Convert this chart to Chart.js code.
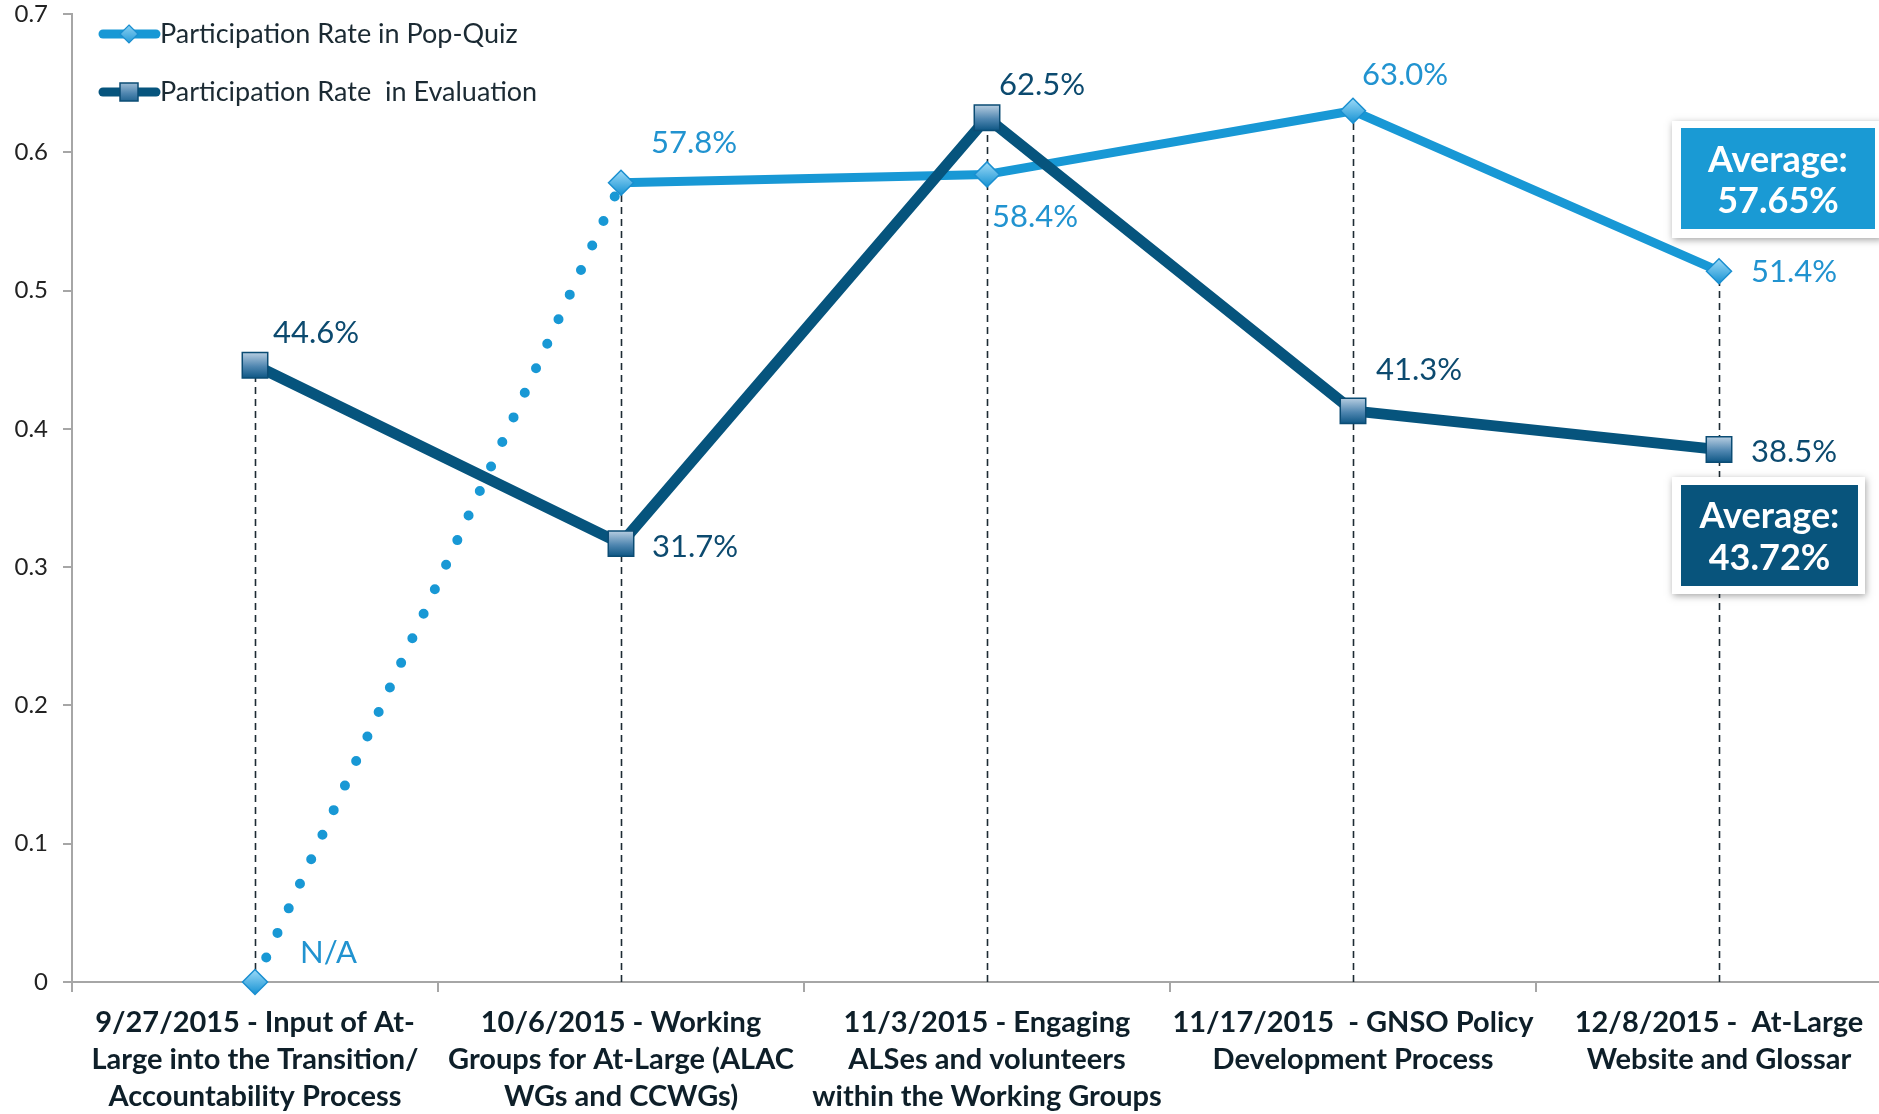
<!DOCTYPE html>
<html><head><meta charset="utf-8">
<script src="https://cdn.jsdelivr.net/npm/chart.js@4.4.0/dist/chart.umd.min.js"></script>
<style>
html,body{margin:0;padding:0;overflow:hidden;background:#fff;width:1879px;height:1114px}
#wrap{position:absolute;left:0;top:0;width:1902px;height:1114px}
</style>
</head><body><div id="wrap"><canvas id="c" width="1902" height="1114"></canvas></div>
<script>
// ---- data ----
const categories = [
  ['9/27/2015 - Input of At-', 'Large into the Transition/', 'Accountability Process'],
  ['10/6/2015 - Working', 'Groups for At-Large (ALAC', 'WGs and CCWGs)'],
  ['11/3/2015 - Engaging', 'ALSes and volunteers', 'within the Working Groups'],
  ['11/17/2015  - GNSO Policy', 'Development Process'],
  ['12/8/2015 -  At-Large', 'Website and Glossar']
];
const seriesNames = ['Participation Rate in Pop-Quiz', 'Participation Rate  in Evaluation'];
const popQuizRate = [0, 0.578, 0.584, 0.630, 0.514];
const evaluationRate = [0.446, 0.317, 0.625, 0.413, 0.385];
const popQuizLabels = ['N/A', '57.8%', '58.4%', '63.0%', '51.4%'];
const evaluationLabels = ['44.6%', '31.7%', '62.5%', '41.3%', '38.5%'];
const averageTexts = [['Average:', '57.65%'], ['Average:', '43.72%']];
const yTickValues = [0, 0.1, 0.2, 0.3, 0.4, 0.5, 0.6, 0.7];

// ---- label placement (offsets from point, px) ----
const popLabelOffsets = [[45, -29], [30, -40], [5, 43], [9, -36], [32, 1]];
const evalLabelOffsets = [[18, -32], [31, 3], [12, -33], [23, -41], [32, 2]];

const LIGHT = '#1898d5', DARK = '#06547d';
const LIGHT_TXT = '#2193d0', DARK_TXT = '#0c4a6f';
const FONT = 'Lato';

function squareGrad(ctx, y) {
  const g = ctx.createLinearGradient(0, y - 13, 0, y + 13);
  g.addColorStop(0, '#b9cfe2'); g.addColorStop(0.55, '#4f86b0'); g.addColorStop(1, '#0c5583');
  return g;
}
function diamondGrad(ctx, y) {
  const g = ctx.createLinearGradient(0, y - 12, 0, y + 12);
  g.addColorStop(0, '#9ad9f7'); g.addColorStop(1, '#1893d3');
  return g;
}
function pointFill(c, maker, fallback) {
  const ys = c.chart.scales && c.chart.scales.y;
  if (!ys || c.type !== 'data' || typeof c.raw !== 'number') return fallback;
  const y = ys.getPixelForValue(c.raw);
  if (!isFinite(y)) return fallback;
  return maker(c.chart.ctx, y);
}

const dropLines = {
  id: 'dropLines',
  beforeDatasetsDraw(chart) {
    const ctx = chart.ctx, xs = chart.scales.x, ys = chart.scales.y;
    ctx.save();
    ctx.setLineDash([7, 5]); ctx.strokeStyle = '#1d2b33'; ctx.lineWidth = 1.6;
    for (let i = 0; i < categories.length; i++) {
      const top = Math.max(popQuizRate[i], evaluationRate[i]);
      const px = Math.round(xs.getPixelForValue(i)) + 0.5;
      ctx.beginPath();
      ctx.moveTo(px, ys.getPixelForValue(0));
      ctx.lineTo(px, ys.getPixelForValue(top));
      ctx.stroke();
    }
    ctx.restore();
  }
};

const valueLabels = {
  id: 'valueLabels',
  afterDatasetsDraw(chart) {
    const ctx = chart.ctx, xs = chart.scales.x, ys = chart.scales.y;
    ctx.save();
    ctx.font = '31px ' + FONT; ctx.textAlign = 'left'; ctx.textBaseline = 'middle';
    const draw = (vals, labels, offs, color) => {
      ctx.fillStyle = color;
      vals.forEach((v, i) => {
        const px = xs.getPixelForValue(i), py = ys.getPixelForValue(v);
        ctx.fillText(labels[i], px + offs[i][0], py + offs[i][1]);
      });
    };
    draw(popQuizRate, popQuizLabels, popLabelOffsets, LIGHT_TXT);
    draw(evaluationRate, evaluationLabels, evalLabelOffsets, DARK_TXT);
    ctx.restore();
  }
};

function box(ctx, ox, oy, ow, oh, ix, iy, iw, ih, fill, lines, cy) {
  ctx.save();
  ctx.shadowColor = 'rgba(0,0,0,0.35)'; ctx.shadowBlur = 7; ctx.shadowOffsetX = 1; ctx.shadowOffsetY = 2;
  ctx.fillStyle = '#fff'; ctx.fillRect(ox, oy, ow, oh);
  ctx.restore();
  ctx.save();
  ctx.fillStyle = fill; ctx.fillRect(ix, iy, iw, ih);
  ctx.fillStyle = '#fff'; ctx.font = 'bold 36px ' + FONT; ctx.textAlign = 'center'; ctx.textBaseline = 'middle';
  ctx.fillText(lines[0], ix + iw / 2, cy[0]);
  ctx.fillText(lines[1], ix + iw / 2, cy[1]);
  ctx.restore();
}

const extras = {
  id: 'extras',
  afterDraw(chart) {
    const ctx = chart.ctx;
    const items = [
      {y: 34, color: LIGHT, name: seriesNames[0], kind: 'diamond'},
      {y: 92, color: DARK, name: seriesNames[1], kind: 'square'}
    ];
    items.forEach(it => {
      ctx.save();
      ctx.strokeStyle = it.color; ctx.lineWidth = 9; ctx.lineCap = 'round';
      ctx.beginPath(); ctx.moveTo(103, it.y); ctx.lineTo(156, it.y); ctx.stroke();
      const mx = 129;
      if (it.kind === 'diamond') {
        ctx.beginPath();
        ctx.moveTo(mx, it.y - 9); ctx.lineTo(mx + 9, it.y); ctx.lineTo(mx, it.y + 9); ctx.lineTo(mx - 9, it.y); ctx.closePath();
        ctx.fillStyle = diamondGrad(ctx, it.y); ctx.fill();
        ctx.strokeStyle = '#1a8fd0'; ctx.lineWidth = 1.2; ctx.stroke();
      } else {
        ctx.fillStyle = squareGrad(ctx, it.y);
        ctx.fillRect(mx - 9, it.y - 9, 18, 18);
        ctx.strokeStyle = '#0b4c74'; ctx.lineWidth = 1.5; ctx.strokeRect(mx - 9, it.y - 9, 18, 18);
      }
      ctx.fillStyle = '#1b2a33'; ctx.font = '27px ' + FONT; ctx.textAlign = 'left'; ctx.textBaseline = 'middle';
      ctx.fillText(it.name, 160, it.y);
      ctx.restore();
    });
    box(ctx, 1672, 121, 210, 117, 1681, 128, 194, 101, '#1a9ad4', averageTexts[0], [160, 201]);
    box(ctx, 1672, 477, 193, 117, 1681, 485, 177, 101, '#08547c', averageTexts[1], [516, 558]);
  }
};

new Chart(document.getElementById('c'), {
  type: 'line',
  data: {
    labels: categories,
    datasets: [
      {
        label: seriesNames[0],
        data: popQuizRate,
        order: 1,
        clip: false,
        borderColor: LIGHT,
        borderWidth: 9,
        borderJoinStyle: 'round',
        pointStyle: 'rectRot',
        pointRadius: 12.5,
        pointBorderWidth: 1.5,
        pointBorderColor: '#1a8fd0',
        pointBackgroundColor: (c) => pointFill(c, diamondGrad, '#5ab8e8'),
        segment: {
          borderDash: (s) => s.p0DataIndex === 0 ? [0, 27] : undefined,
          borderCapStyle: (s) => s.p0DataIndex === 0 ? 'round' : 'butt',
          borderWidth: (s) => s.p0DataIndex === 0 ? 10 : undefined
        },
        tension: 0
      },
      {
        label: seriesNames[1],
        data: evaluationRate,
        order: 0,
        clip: false,
        borderColor: DARK,
        borderWidth: 11,
        borderJoinStyle: 'round',
        pointStyle: 'rect',
        pointRadius: 18,
        pointBorderWidth: 1.5,
        pointBorderColor: '#0b4c74',
        pointBackgroundColor: (c) => pointFill(c, squareGrad, '#4f86b0'),
        tension: 0
      }
    ]
  },
  options: {
    responsive: false,
    animation: false,
    events: [],
    layout: {autoPadding: false, padding: {top: 14, right: 0, left: 0, bottom: 0}},
    plugins: {legend: {display: false}, tooltip: {enabled: false}},
    scales: {
      x: {
        type: 'category',
        offset: true,
        grid: {offset: true, drawOnChartArea: false, drawTicks: true, tickLength: 10, color: '#a6a6a6', lineWidth: 2},
        border: {display: true, color: '#a6a6a6', width: 2},
        ticks: {
          padding: 12,
          color: '#0e1f29',
          font: {family: FONT, size: 29, weight: 'bold', lineHeight: 37 / 29},
          maxRotation: 0, autoSkip: false
        },
        afterFit(s) { s.height = 132; s.paddingLeft = 0; s.paddingRight = 0; }
      },
      y: {
        min: 0, max: 0.7,
        afterBuildTicks(s) { s.ticks = yTickValues.map(v => ({value: v})); },
        grid: {drawOnChartArea: false, drawTicks: true, tickLength: 9, color: '#a6a6a6', lineWidth: 2},
        border: {display: true, color: '#a6a6a6', width: 2},
        ticks: {
          padding: 15,
          color: '#222',
          font: {family: FONT, size: 24, lineHeight: 1},
          callback: (v) => String(Math.round(v * 10) / 10)
        },
        afterFit(s) { s.width = 72; s.paddingTop = 0; s.paddingBottom = 0; }
      }
    }
  },
  plugins: [dropLines, valueLabels, extras]
});
</script>
</body></html>
